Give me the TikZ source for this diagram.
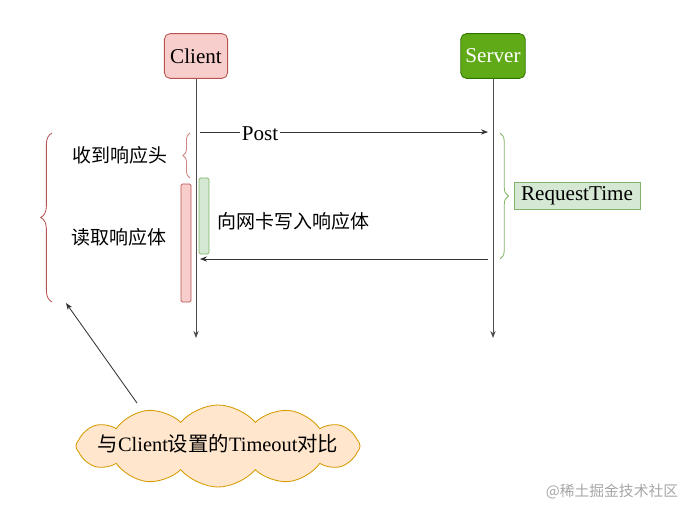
\documentclass[tikz,border=0pt]{standalone}
\usepackage{fontspec}
\setmainfont{Liberation Serif}
\newfontfamily\cjk{Noto Sans CJK SC}
\usepackage{tikz}
\usetikzlibrary{arrows.meta, positioning, shapes.symbols, decorations.pathreplacing}
\definecolor{clipink}{HTML}{F8CECC}
\definecolor{clired}{HTML}{B85450}
\definecolor{srvgreen}{HTML}{60A917}
\definecolor{srvdark}{HTML}{2D7600}
\definecolor{reqgreen}{HTML}{D5E8D4}
\definecolor{reqline}{HTML}{82B366}
\definecolor{cloudfill}{HTML}{FFE6CC}
\definecolor{cloudline}{HTML}{D79B00}

\begin{document}
\begin{tikzpicture}[x=0.025cm, y=-0.025cm,
  box/.style={draw=#1, rounded corners=4pt, line width=0.6pt,
    minimum width=1.58cm, minimum height=1.12cm,
    font=\fontsize{15}{18}\selectfont, align=center},
  bar/.style={draw=#1, rounded corners=1pt, line width=0.5pt, minimum width=0.25cm},
  arr/.style={-{Stealth[length=5pt]}, line width=0.6pt, #1},
  lbl/.style={font=\fontsize{13.5}{16}\selectfont\cjk},
  brc/.style={decorate, decoration={brace, amplitude=#1}, line width=0.6pt}
]
\useasboundingbox (0,0) rectangle (688,506);
% participants
\node[box=clired, fill=clipink]                (client) at (196,56) {Client};
\node[box=srvdark, fill=srvgreen, text=white] (server) at (493,56) {Server};
\coordinate (cEnd) at (196,338);
\coordinate (sEnd) at (493,338);
\draw[arr=black!70] (client) -- (cEnd);
\draw[arr=black!70] (server) -- (sEnd);
% messages
\coordinate (postA) at (200,132);
\coordinate (postB) at (488,132);
\coordinate (retA)  at (488,259);
\coordinate (retB)  at (200,259);
\draw[arr=black!80] (postA) -- (postB);
\node[fill=white, inner sep=1pt, font=\fontsize{15}{18}\selectfont] (post) at (260,134) {Post};
\draw[arr=black!80] (retA) -- (retB);
% activation bars
\node[bar=clired, fill=clipink, minimum height=2.95cm]    (read)  at (186,243) {};
\node[bar=reqline, fill=reqgreen, minimum height=1.9cm]   (write) at (204,216) {};
% braces
\draw[brc=5pt, draw=clired!70]  (190,178) -- (190,133);
\draw[brc=8pt, draw=clired]     (52,302) -- (52,133);
\draw[brc=6pt, draw=reqline]    (500,133) -- (500,259);
% labels
\node[lbl, anchor=east] (head) at (172,155) {收到响应头};
\node[lbl] (body)  at (119,237) {读取响应体};
\node[lbl, anchor=west] (send) at (213,221) {向网卡写入响应体};
\node[draw=reqline, fill=reqgreen, line width=0.6pt, inner sep=3pt,
  minimum width=3.15cm, minimum height=0.68cm,
  font=\fontsize{15}{18}\selectfont] (reqtime) at (577,196) {RequestTime};
% comparison cloud
\node[cloud, cloud puffs=12, cloud puff arc=100, cloud ignores aspect,
  draw=cloudline, fill=cloudfill, line width=0.6pt,
  minimum width=7.1cm, minimum height=2.05cm] (cmpCloud) at (218,446) {};
\node[font=\fontsize{14.5}{17}\selectfont] (cmp) at (218,444)
  {{\cjk 与}Client{\cjk 设置的}Timeout{\cjk 对比}};
\coordinate (cmpTop) at (137,403);
\coordinate (braceEnd) at (66,303);
\draw[arr=black!80] (cmpTop) -- (braceEnd);
% watermark
\node[font=\fontsize{10.5}{12}\selectfont\cjk, text=black!35] (mark) at (612,491) {@稀土掘金技术社区};
\end{tikzpicture}
\end{document}
